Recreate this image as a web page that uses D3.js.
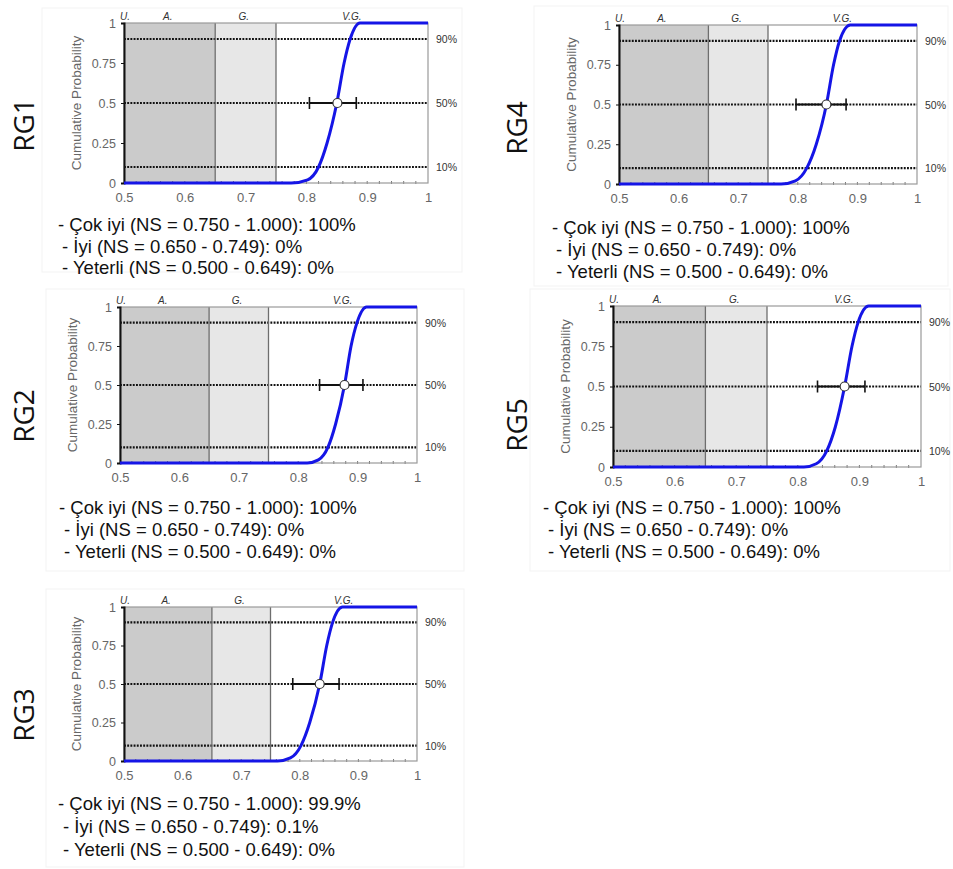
<!DOCTYPE html>
<html>
<head>
<meta charset="utf-8">
<script src="https://cdn.jsdelivr.net/npm/d3@7"></script>
<style>
  html, body { margin: 0; padding: 0; background: #fff; }
  svg { display: block; }
</style>
</head>
<body>
<svg id="chart" width="953" height="869"></svg>
<script>
// ---------------- DATA ----------------
const panelNames = ["RG1", "RG2", "RG3", "RG4", "RG5"];
// cumulative probability levels at which the curve positions were read
const cumLevels = [0, 0.02, 0.1, 0.25, 0.5, 0.75, 0.9, 1];
// NS value at each cumulative level, per panel
const curveRG1 = [0.775, 0.802, 0.820, 0.834, 0.850, 0.862, 0.872, 0.888];
const curveRG2 = [0.815, 0.834, 0.850, 0.863, 0.878, 0.889, 0.899, 0.915];
const curveRG3 = [0.762, 0.784, 0.802, 0.817, 0.834, 0.846, 0.856, 0.873];
const curveRG4 = [0.772, 0.796, 0.815, 0.831, 0.848, 0.860, 0.870, 0.888];
const curveRG5 = [0.810, 0.830, 0.847, 0.861, 0.876, 0.888, 0.898, 0.915];
const curves = [curveRG1, curveRG2, curveRG3, curveRG4, curveRG5];
// median and uncertainty bar ends at 50%
const medians = [0.851, 0.878, 0.834, 0.848, 0.876];
const ciLow   = [0.805, 0.836, 0.788, 0.797, 0.832];
const ciHigh  = [0.882, 0.909, 0.867, 0.881, 0.909];
// performance classes
const classNames  = ["U.", "A.", "G.", "V.G."];
const classBounds = [0.5, 0.65, 0.75, 1.0];
const classLabelAt = [0.5, 0.572, 0.697, 0.875];
// reference probability lines
const refLevels = [0.1, 0.5, 0.9];
const refLabels = ["10%", "50%", "90%"];
// axis ticks
const xTicks = [0.5, 0.6, 0.7, 0.8, 0.9, 1];
const yTicks = [0, 0.25, 0.5, 0.75, 1];
// summary text
const lineLabels = ["- Çok iyi (NS = 0.750 - 1.000): ", "- İyi (NS = 0.650 - 0.749): ", "- Yeterli (NS = 0.500 - 0.649): "];
const pctCokIyi  = ["100%", "100%", "99.9%", "100%", "100%"];
const pctIyi     = ["0%", "0%", "0.1%", "0%", "0%"];
const pctYeterli = ["0%", "0%", "0%", "0%", "0%"];

// ---------------- LAYOUT ----------------
const layout = [
  { plot: [124, 23, 428, 183], box: [42, 8, 420, 264], label: [34, 125], text: [58, 62, 231, 21.5] },
  { plot: [120, 307, 417, 463], box: [46, 289, 418, 282], label: [34, 416], text: [59, 64, 514, 22] },
  { plot: [124, 607, 417, 761], box: [46, 589, 418, 278], label: [34, 715], text: [58, 63, 810, 23] },
  { plot: [619, 25, 917, 184], box: [534, 6, 414, 280], label: [527, 128], text: [552, 556, 234, 22] },
  { plot: [613, 306, 921, 467], box: [530, 289, 420, 282], label: [527, 425], text: [543, 548, 514, 22] }
];

const svg = d3.select("#chart");
const axisFont = "'Liberation Sans', Arial, sans-serif";
const bigFont = "'Open Sans', 'Noto Sans', sans-serif";
const textFont = "'Liberation Sans', Arial, sans-serif";

panelNames.forEach((name, i) => {
  const L = layout[i];
  const [x0, y0, x1, y1] = L.plot;
  const x = d3.scaleLinear().domain([0.5, 1]).range([x0, x1]);
  const y = d3.scaleLinear().domain([0, 1]).range([y1, y0]);
  const g = svg.append("g");

  // faint panel box
  g.append("rect").attr("x", L.box[0]).attr("y", L.box[1]).attr("width", L.box[2]).attr("height", L.box[3])
    .attr("fill", "none").attr("stroke", "#f3f3f3").attr("stroke-width", 1);

  // panel label
  g.append("text").attr("transform", `translate(${L.label[0]},${L.label[1]}) rotate(-90)`)
    .attr("text-anchor", "middle").attr("font-family", bigFont).attr("font-size", 28)
    .attr("fill", "#111").text(name);

  // class shading
  const fills = ["#cbcbcb", "#e7e7e7", "#ffffff"];
  d3.range(3).forEach(k => {
    g.append("rect").attr("x", x(classBounds[k])).attr("y", y0)
      .attr("width", x(classBounds[k + 1]) - x(classBounds[k])).attr("height", y1 - y0)
      .attr("fill", fills[k]);
  });

  // reference dotted lines
  refLevels.forEach((lv, k) => {
    g.append("line").attr("x1", x0).attr("x2", x1).attr("y1", y(lv)).attr("y2", y(lv))
      .attr("stroke", "#111").attr("stroke-width", 2.2).attr("stroke-dasharray", "1.9,1.3");
    g.append("text").attr("x", x1 + 8).attr("y", y(lv) + 4).attr("font-family", axisFont)
      .attr("font-size", 10.5).attr("fill", "#333").text(refLabels[k]);
  });

  // class boundary lines
  [0.65, 0.75].forEach(b => {
    g.append("line").attr("x1", x(b)).attr("x2", x(b)).attr("y1", y0).attr("y2", y1)
      .attr("stroke", "#6e6e6e").attr("stroke-width", 1.3);
  });

  // minor x ticks
  d3.range(0.52, 1.0, 0.02).forEach(t => {
    g.append("line").attr("x1", x(t)).attr("x2", x(t)).attr("y1", y1 - 2).attr("y2", y1 + 1)
      .attr("stroke", "#777").attr("stroke-width", 1);
  });

  // frame
  g.append("rect").attr("x", x0).attr("y", y0).attr("width", x1 - x0).attr("height", y1 - y0)
    .attr("fill", "none").attr("stroke", "#9a9a9a").attr("stroke-width", 1.2);

  // x axis
  const xAxis = d3.axisBottom(x).tickValues(xTicks).tickSize(0).tickPadding(10)
    .tickFormat(d => d === 1 ? "1" : d3.format(".1f")(d));
  const xa = g.append("g").attr("transform", `translate(0,${y1})`).call(xAxis);
  xa.select(".domain").remove();
  xa.selectAll("text").attr("font-family", axisFont).attr("font-size", 13).attr("fill", "#666");

  // y axis
  const yAxis = d3.axisLeft(y).tickValues(yTicks).tickSize(3).tickPadding(5)
    .tickFormat(d => d === 0 ? "0" : d === 1 ? "1" : String(d));
  const ya = g.append("g").attr("transform", `translate(${x0},0)`).call(yAxis);
  ya.select(".domain").attr("stroke", "#111").attr("stroke-width", 2);
  ya.selectAll(".tick line").attr("stroke", "#111");
  ya.selectAll("text").attr("font-family", axisFont).attr("font-size", 12.5).attr("fill", "#666");

  // y axis title
  g.append("text").attr("transform", `translate(${x0 - 43},${(y0 + y1) / 2}) rotate(-90)`)
    .attr("text-anchor", "middle").attr("font-family", axisFont).attr("font-size", 13.5)
    .attr("fill", "#666").text("Cumulative Probability");

  // class labels on top
  classNames.forEach((c, k) => {
    g.append("text").attr("x", x(classLabelAt[k]) + (k === 0 ? 1 : 0)).attr("y", y0 - 3)
      .attr("text-anchor", "middle").attr("font-family", axisFont).attr("font-style", "italic")
      .attr("font-size", 10).attr("fill", "#333").text(c);
  });

  // CDF curve
  const pts = [[0.5, 0]].concat(curves[i].map((v, k) => [v, cumLevels[k]])).concat([[1, 1]]);
  const line = d3.line().x(d => x(d[0])).y(d => y(d[1])).curve(d3.curveMonotoneX);
  g.append("path").datum(pts).attr("d", line).attr("fill", "none")
    .attr("stroke", "#1515e6").attr("stroke-width", 3);

  // uncertainty bar
  const ym = y(0.5);
  g.append("line").attr("x1", x(ciLow[i])).attr("x2", x(ciHigh[i])).attr("y1", ym).attr("y2", ym)
    .attr("stroke", "#111").attr("stroke-width", 2);
  [ciLow[i], ciHigh[i]].forEach(v => {
    g.append("line").attr("x1", x(v)).attr("x2", x(v)).attr("y1", ym - 6).attr("y2", ym + 6)
      .attr("stroke", "#111").attr("stroke-width", 1.6);
  });
  g.append("circle").attr("cx", x(medians[i])).attr("cy", ym).attr("r", 4.5)
    .attr("fill", "#fff").attr("stroke", "#333").attr("stroke-width", 1.2);

  // summary text
  const pcts = [pctCokIyi[i], pctIyi[i], pctYeterli[i]];
  const [tx1, tx2, tb, dy] = L.text;
  lineLabels.forEach((lab, k) => {
    g.append("text").attr("x", k === 0 ? tx1 : tx2).attr("y", tb + k * dy)
      .attr("font-family", textFont).attr("font-size", 18.5).attr("fill", "#111")
      .text(lab + pcts[k]);
  });
});
</script>
</body>
</html>
